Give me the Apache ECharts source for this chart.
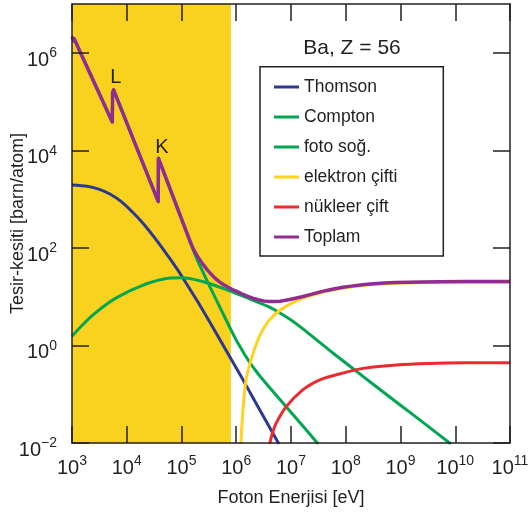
<!DOCTYPE html>
<html>
<head>
<meta charset="utf-8">
<script src="https://cdn.jsdelivr.net/npm/echarts@6/dist/echarts.min.js"></script>
<style>
  html, body { margin: 0; padding: 0; background: #ffffff; }
  #chart { width: 531px; height: 521px; }
</style>
</head>
<body>
<div id="chart"></div>
<script>
// Photon cross sections for barium (Z = 56).
// Each pair: [photon energy in eV, cross section in barn/atom].

const thomson = [
  [1000, 1950], [1995, 1820], [3162, 1585], [5012, 1259], [7943, 891],
  [1.259e4, 550], [1.995e4, 316], [3.162e4, 166], [5.012e4, 83.2],
  [7.943e4, 39.8], [1.259e5, 17.8], [1.995e5, 7.76], [3.162e5, 3.24],
  [5.012e5, 1.318], [7.943e5, 0.537], [1.259e6, 0.219], [1.995e6, 0.0871],
  [3.162e6, 0.0347], [5.012e6, 0.0138], [6.026e6, 0.00955]
];

const compton = [
  [1000, 1.549], [1585, 2.692], [2512, 4.365], [3981, 6.607], [6310, 9.333],
  [1e4, 12.30], [1.585e4, 15.49], [2.512e4, 19.05], [3.981e4, 22.13],
  [6.310e4, 24.27], [1e5, 24.55], [1.585e5, 22.91], [2.512e5, 20.18],
  [3.981e5, 17.18], [6.310e5, 14.29], [1e6, 11.61], [1.585e6, 9.44],
  [2.512e6, 7.67], [3.981e6, 6.166], [6.310e6, 4.624], [1e7, 3.311],
  [1.585e7, 2.265], [2.512e7, 1.496], [3.981e7, 0.9886], [6.310e7, 0.6531],
  [1e8, 0.4365], [1.585e8, 0.2917], [3.162e8, 0.1603], [1e9, 0.05957],
  [3.162e9, 0.02213], [8.318e9, 0.00955]
];

// photoabsorption with its M, L and K edges
const photo = [
  [1000, 2.138e6], [1084, 1.758e6], [1096, 1.950e6], [1274, 1.334e6], [1288, 1.445e6],
  [5445, 3.802e4], [5521, 1.585e5], [5689, 1.380e5], [5754, 1.738e5],
  [3.758e4, 891], [3.784e4, 6918], [1.079e5, 316],
  [1.259e5, 197.7], [1.445e5, 130.3], [1.585e5, 99.1], [1.778e5, 72.1],
  [1.995e5, 53.1], [2.291e5, 37.8], [2.630e5, 27.2], [3.020e5, 19.63],
  [3.467e5, 14.29], [3.981e5, 10.40], [4.571e5, 7.57], [5.248e5, 5.51],
  [6.026e5, 4.01], [6.918e5, 2.917], [7.943e5, 2.123], [8.913e5, 1.648],
  [1e6, 1.282], [1.189e6, 0.916], [1.413e6, 0.661], [1.679e6, 0.488],
  [1.995e6, 0.367], [2.371e6, 0.285], [2.818e6, 0.222], [3.981e6, 0.141],
  [5.623e6, 0.0897], [7.943e6, 0.0573], [1.122e7, 0.0366], [1.585e7, 0.0233],
  [2.239e7, 0.0149], [2.818e7, 0.01096], [3.162e7, 0.0095]
];

const pairElectron = [
  [1.216e6, 0.00955], [1.312e6, 0.0407], [1.507e6, 0.195], [1.858e6, 0.501],
  [2.636e6, 1.514], [4.018e6, 3.311], [7.047e6, 5.754], [1.637e7, 9.33],
  [3.289e7, 11.75], [6.637e7, 14.13], [1.995e8, 16.98], [7.943e8, 18.84],
  [3.162e9, 19.5], [1.585e10, 19.72], [1e11, 19.72]
];

const pairNuclear = [
  [4.074e6, 0.00955], [4.571e6, 0.0158], [5.321e6, 0.0251], [8.110e6, 0.0550],
  [1.637e7, 0.123], [3.289e7, 0.195], [6.310e7, 0.245], [2.089e8, 0.339],
  [8.511e8, 0.398], [3.467e9, 0.427], [1.585e10, 0.440], [1e11, 0.443]
];

const total = [
  [1000, 2.138e6], [1084, 1.758e6], [1096, 1.950e6], [1274, 1.334e6], [1288, 1.445e6],
  [5445, 3.802e4], [5521, 1.585e5], [5689, 1.380e5], [5754, 1.738e5],
  [3.758e4, 891], [3.784e4, 6918], [1.079e5, 316],
  [1.259e5, 201.8], [1.445e5, 134.9], [1.585e5, 104.7], [1.738e5, 85.1],
  [1.905e5, 70.8], [2.188e5, 55.6], [2.512e5, 44.7], [2.884e5, 36.7],
  [3.311e5, 30.7], [3.802e5, 26.0], [4.365e5, 22.5], [5.012e5, 19.86],
  [6.026e5, 17.30], [7.244e5, 15.35], [8.710e5, 13.87], [1.047e6, 12.65],
  [1.259e6, 11.48], [1.585e6, 10.28], [1.995e6, 9.33], [2.512e6, 8.63],
  [3.162e6, 8.17], [3.981e6, 7.94], [5.012e6, 7.93], [6.310e6, 8.07],
  [7.943e6, 8.41], [1e7, 8.87], [1.259e7, 9.38], [1.585e7, 9.95],
  [2.239e7, 11.04], [3.162e7, 12.25], [4.467e7, 13.43], [6.310e7, 14.55],
  [8.913e7, 15.56], [1.259e8, 16.44], [1.995e8, 17.50], [3.162e8, 18.32],
  [5.012e8, 18.97], [7.943e8, 19.45], [1.413e9, 19.82], [2.512e9, 20.04],
  [5.012e9, 20.23], [1.585e10, 20.37], [1e11, 20.42]
];

const seriesNames = ['Thomson', 'Compton', 'foto soğ.', 'elektron çifti', 'nükleer çift', 'Toplam'];
const seriesColors = ['#2B3990', '#00A650', '#00A650', '#FFD21F', '#EE2A2E', '#932C91'];
// curves with absorption edges are drawn as plain polylines
const smoothing = [0.35, 0.35, false, 0.35, 0.35, false];

// Energy range shaded behind the curves
const shadedRange = [1e3, 8e5];

// Absorption edge markers on the total curve
const edgeMarks = [
  { name: 'L', coord: [6.28e3, 3.07e5] },
  { name: 'K', coord: [4.41e4, 1.14e4] }
];

const xTickValues = [1e3, 1e4, 1e5, 1e6, 1e7, 1e8, 1e9, 1e10, 1e11];
const yTickValues = [1e-2, 1, 1e2, 1e4, 1e6];

const FONT = "'Liberation Sans', Arial, Helvetica, sans-serif";
const INK = '#231F20';

function powerLabel(v) {
  const e = Math.round(Math.log10(v));
  return '{b|10}{e|' + (e < 0 ? '\u2212' + (-e) : e) + '}';
}

const labelRich = {
  b: { fontSize: 20, fontFamily: FONT, color: INK, lineHeight: 28 },
  e: { fontSize: 14, fontFamily: FONT, color: INK, lineHeight: 16, verticalAlign: 'top' }
};
const frameLine = { show: true, onZero: false, lineStyle: { color: INK, width: 1.5 } };

function tickStyle(values) {
  return { show: true, inside: true, length: 17, customValues: values,
           lineStyle: { color: INK, width: 1.5 } };
}

function logAxisX(position, withLabels) {
  return {
    type: 'log', logBase: 10, min: 1e3, max: 1e11, position: position, z: 5,
    axisLine: frameLine, axisTick: tickStyle(xTickValues),
    splitLine: { show: false }, minorTick: { show: false },
    axisLabel: withLabels
      ? { show: true, customValues: xTickValues, formatter: powerLabel, rich: labelRich, margin: 11 }
      : { show: false }
  };
}

function logAxisY(position, withLabels) {
  return {
    type: 'log', logBase: 10, min: 1e-2, max: 1e7, position: position, z: 5,
    axisLine: frameLine, axisTick: tickStyle(yTickValues),
    splitLine: { show: false }, minorTick: { show: false },
    axisLabel: withLabels
      ? { show: true, customValues: yTickValues, formatter: powerLabel, rich: labelRich,
          margin: 15, padding: [15, 0, 0, 0] }
      : { show: false }
  };
}

const xBottom = logAxisX('bottom', true);
Object.assign(xBottom, {
  name: 'Foton Enerjisi [eV]', nameLocation: 'middle', nameGap: 46, nameMoveOverlap: false,
  nameTextStyle: { fontSize: 18, fontFamily: FONT, color: INK }
});
const yLeft = logAxisY('left', true);
Object.assign(yLeft, {
  name: 'Tesir-kesiti [barn/atom]', nameLocation: 'middle', nameGap: 45, nameMoveOverlap: false,
  nameTextStyle: { fontSize: 18, fontFamily: FONT, color: INK }
});

const curves = [thomson, compton, photo, pairElectron, pairNuclear, total];

const lineSeries = curves.map(function (data, i) {
  const s = {
    name: seriesNames[i], type: 'line', data: data, xAxisIndex: 0, yAxisIndex: 0,
    symbol: 'none', showSymbol: false, clip: true, z: 3,
    smooth: smoothing[i],
    lineStyle: { color: seriesColors[i], width: i === 5 ? 3.5 : 3, join: 'round' },
    itemStyle: { color: seriesColors[i] },
    emphasis: { disabled: true }, silent: true
  };
  if (i === 5) {
    s.markPoint = {
      symbol: 'circle', symbolSize: 1, silent: true,
      itemStyle: { color: 'rgba(0,0,0,0)' },
      label: { show: true, position: 'inside', formatter: '{b}',
               fontSize: 20, fontFamily: FONT, color: INK },
      data: edgeMarks
    };
  }
  return s;
});

const bandSeries = {
  name: 'band', type: 'line', data: [], xAxisIndex: 0, yAxisIndex: 0, z: 1, silent: true,
  markArea: {
    silent: true,
    itemStyle: { color: '#F9D21F', borderWidth: 0 },
    data: [[{ xAxis: shadedRange[0] }, { xAxis: shadedRange[1] }]]
  }
};

const chart = echarts.init(document.getElementById('chart'), null, { renderer: 'canvas' });
chart.setOption({
  animation: false,
  backgroundColor: '#ffffff',
  grid: { left: 72, right: 21, top: 4, bottom: 78, containLabel: false, outerBoundsMode: 'none' },
  xAxis: [xBottom, logAxisX('top', false)],
  yAxis: [yLeft, logAxisY('right', false)],
  legend: {
    data: seriesNames, orient: 'vertical', left: 274, top: 77, padding: 0,
    itemWidth: 25, itemHeight: 3, itemGap: 10, icon: 'rect', selectedMode: false,
    textStyle: { fontSize: 17.5, fontFamily: FONT, color: INK, lineHeight: 20 }
  },
  graphic: [
    { type: 'rect', z: 10, silent: true,
      shape: { x: 260, y: 66.7, width: 183.3, height: 189.3 },
      style: { fill: 'none', stroke: INK, lineWidth: 1.5 } },
    { type: 'text', z: 10, silent: true, x: 352, y: 48,
      style: { text: 'Ba, Z = 56', fontSize: 21, fontFamily: FONT, fill: INK,
               align: 'center', verticalAlign: 'middle' } }
  ],
  series: [bandSeries].concat(lineSeries)
});
</script>
</body>
</html>
